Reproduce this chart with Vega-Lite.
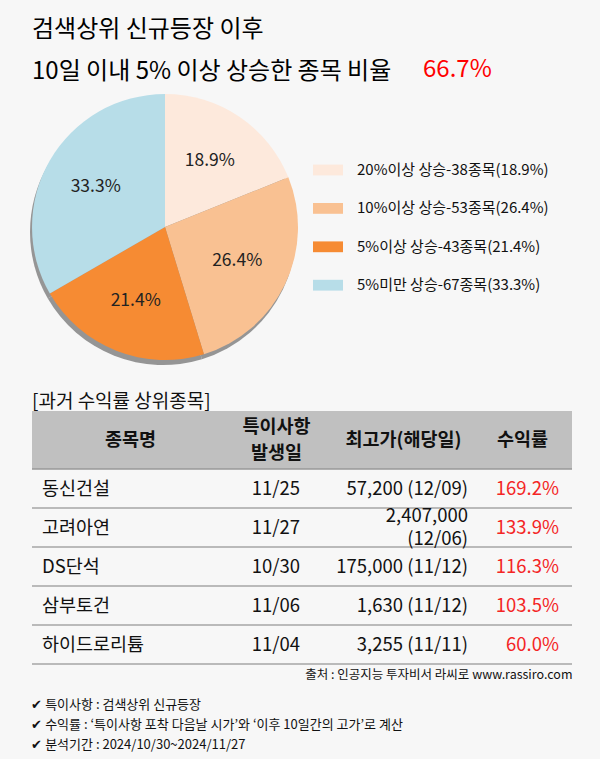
{
  "$schema": "https://vega.github.io/schema/vega-lite/v6.json",
  "background": "#f7f7f7",
  "padding": {"left": 30, "right": 30, "top": 18, "bottom": 8},
  "config": {
    "view": {"stroke": null},
    "font": "Noto Sans CJK KR",
    "text": {"font": "Noto Sans CJK KR"},
    "title": {"font": "Noto Sans CJK KR", "fontWeight": "normal"}
  },
  "spacing": 28,
  "vconcat": [
    {
      "bounds": "flush",
      "spacing": 125,
      "hconcat": [
        {
          "width": 266,
          "height": 266,
          "title": {
            "text": ["검색상위 신규등장 이후", "10일 이내 5% 이상 상승한 종목 비율"],
            "anchor": "start", "frame": "group", "orient": "top",
            "fontSize": 24, "lineHeight": 42, "offset": 10,
            "color": "#000000", "fontWeight": "normal"
          },
          "data": {"values": [
            {"id": 1, "group": "20%이상 상승-38종목(18.9%)", "count": 38, "share": 0.189},
            {"id": 2, "group": "10%이상 상승-53종목(26.4%)", "count": 53, "share": 0.264},
            {"id": 3, "group": "5%이상 상승-43종목(21.4%)", "count": 43, "share": 0.214},
            {"id": 4, "group": "5%미만 상승-67종목(33.3%)", "count": 67, "share": 0.333}
          ]},
          "encoding": {
            "theta": {"field": "count", "type": "quantitative", "stack": true},
            "order": {"field": "id", "type": "quantitative"}
          },
          "layer": [
            {
              "mark": {"type": "arc", "outerRadius": 133, "color": "#8a8a8a", "opacity": 0.9, "xOffset": -2, "yOffset": 5},
              "encoding": {}
            },
            {
              "mark": {"type": "arc", "outerRadius": 133, "strokeWidth": 0},
              "encoding": {
                "color": {
                  "field": "group", "type": "nominal",
                  "scale": {
                    "domain": ["20%이상 상승-38종목(18.9%)", "10%이상 상승-53종목(26.4%)", "5%이상 상승-43종목(21.4%)", "5%미만 상승-67종목(33.3%)"],
                    "range": ["#fde9dc", "#f9c192", "#f68b33", "#b7dde8"]
                  },
                  "legend": {
                    "orient": "none", "legendX": 281, "legendY": 61, "title": null,
                    "symbolType": "M-1,-0.36H1V0.36H-1Z", "symbolSize": 900,
                    "symbolStrokeWidth": 0, "symbolOpacity": 1,
                    "labelFontSize": 15, "labelFont": "Noto Sans CJK KR", "labelColor": "#111111",
                    "labelLimit": 400, "labelOffset": 14, "rowPadding": 15.4, "padding": 0
                  }
                }
              }
            },
            {
              "mark": {"type": "text", "radius": 80, "fontSize": 17.5, "color": "#222222"},
              "encoding": {"text": {"field": "share", "type": "quantitative", "format": ".1%"}}
            }
          ]
        },
        {
          "width": 1,
          "height": 1,
          "title": {
            "text": "66.7%", "anchor": "start", "frame": "group", "orient": "top",
            "fontSize": 24, "offset": 10, "color": "#ff0000", "fontWeight": "normal"
          },
          "data": {"values": [{"v": 0.667}]},
          "mark": {"type": "point", "opacity": 0},
          "encoding": {}
        }
      ]
    },
    {
      "bounds": "flush",
      "spacing": 0,
      "vconcat": [
        {
          "width": 540,
          "height": 58,
          "view": {"fill": "#c0c0c0", "stroke": null},
          "title": {
            "text": "[과거 수익률 상위종목]", "anchor": "start", "frame": "group", "orient": "top",
            "fontSize": 19, "offset": -1, "color": "#111111", "fontWeight": "normal"
          },
          "data": {"values": [
            {"col": "name", "label": "종목명"},
            {"col": "date", "label": "특이사항\n발생일"},
            {"col": "high", "label": "최고가(해당일)"},
            {"col": "ret", "label": "수익률"}
          ]},
          "encoding": {
            "x": {"field": "col", "type": "nominal", "scale": {"domain": ["name", "date", "high", "ret"], "paddingInner": 0, "paddingOuter": 0}, "axis": null},
            "text": {"field": "label", "type": "nominal"}
          },
          "layer": [
            {"transform": [{"filter": "datum.col == 'name'"}], "mark": {"type": "text", "fontSize": 18.5, "fontWeight": "bold", "color": "#111111", "dx": 31}},
            {"transform": [{"filter": "datum.col == 'date'"}], "mark": {"type": "text", "fontSize": 18.5, "fontWeight": "bold", "color": "#111111", "dx": 42, "dy": -13, "lineBreak": "\n", "lineHeight": 26}},
            {"transform": [{"filter": "datum.col == 'high'"}], "mark": {"type": "text", "fontSize": 18.5, "fontWeight": "bold", "color": "#111111", "dx": 34}},
            {"transform": [{"filter": "datum.col == 'ret'"}], "mark": {"type": "text", "fontSize": 18.5, "fontWeight": "bold", "color": "#111111", "dx": 18}}
          ]
        },
        {
          "width": 540,
          "height": 195,
          "title": {
            "text": ["✔ 특이사항 : 검색상위 신규등장", "✔ 수익률 : ‘특이사항 포착 다음날 시가’와 ‘이후 10일간의 고가’로 계산", "✔ 분석기간 : 2024/10/30~2024/11/27"],
            "anchor": "start", "orient": "bottom",
            "fontSize": 13, "lineHeight": 20, "offset": 18, "color": "#111111", "fontWeight": "normal"
          },
          "data": {"values": [
            {"rank": 1, "name": "동신건설", "date": "11/25", "high": "57,200 (12/09)", "ret": 1.692},
            {"rank": 2, "name": "고려아연", "date": "11/27", "high": "2,407,000\n(12/06)", "ret": 1.339},
            {"rank": 3, "name": "DS단석", "date": "10/30", "high": "175,000 (11/12)", "ret": 1.163},
            {"rank": 4, "name": "삼부토건", "date": "11/06", "high": "1,630 (11/12)", "ret": 1.035},
            {"rank": 5, "name": "하이드로리튬", "date": "11/04", "high": "3,255 (11/11)", "ret": 0.6}
          ]},
          "encoding": {
            "y": {"field": "rank", "type": "ordinal", "axis": null, "scale": {"paddingInner": 0, "paddingOuter": 0}}
          },
          "layer": [
            {
              "mark": {"type": "rule", "color": "#a6a6a6", "strokeWidth": 1.5},
              "encoding": {"y": {"field": "rank", "type": "ordinal", "bandPosition": 1, "axis": null}}
            },
            {
              "transform": [{"filter": "datum.rank == 1"}],
              "mark": {"type": "rule", "color": "#999999", "strokeWidth": 1.5},
              "encoding": {"y": {"field": "rank", "type": "ordinal", "bandPosition": 0, "axis": null}}
            },
            {
              "mark": {"type": "text", "align": "left", "dx": -57.5, "fontSize": 18.5, "color": "#111111"},
              "encoding": {
                "x": {"datum": "name", "type": "nominal",
                  "scale": {"domain": ["name", "date", "high", "ret"], "paddingInner": 0, "paddingOuter": 0},
                  "axis": {"title": "출처 : 인공지능 투자비서 라씨로 www.rassiro.com", "orient": "bottom", "labels": false, "ticks": false, "domain": false, "grid": false, "titleAnchor": "end", "titleFontSize": 12.5, "titleFontWeight": "normal", "titleColor": "#111111", "titlePadding": 4, "titleFont": "Noto Sans CJK KR"}},
                "text": {"field": "name", "type": "nominal"}
              }
            },
            {
              "mark": {"type": "text", "align": "right", "dx": 65.5, "fontSize": 18.5, "color": "#111111"},
              "encoding": {
                "x": {"datum": "date", "type": "nominal"},
                "text": {"field": "date", "type": "nominal"}
              }
            },
            {
              "transform": [{"filter": "!test(/\\n/, datum.high)"}],
              "mark": {"type": "text", "align": "right", "dx": 98.5, "fontSize": 18.5, "color": "#111111"},
              "encoding": {
                "x": {"datum": "high", "type": "nominal"},
                "text": {"field": "high", "type": "nominal"}
              }
            },
            {
              "transform": [{"filter": "test(/\\n/, datum.high)"}],
              "mark": {"type": "text", "align": "right", "dx": 98.5, "dy": -11.5, "fontSize": 18.5, "color": "#111111", "lineBreak": "\n", "lineHeight": 23},
              "encoding": {
                "x": {"datum": "high", "type": "nominal"},
                "text": {"field": "high", "type": "nominal"}
              }
            },
            {
              "mark": {"type": "text", "align": "right", "dx": 54.5, "fontSize": 18.5, "color": "#f42525"},
              "encoding": {
                "x": {"datum": "ret", "type": "nominal"},
                "text": {"field": "ret", "type": "quantitative", "format": ".1%"}
              }
            }
          ]
        }
      ]
    }
  ]
}
